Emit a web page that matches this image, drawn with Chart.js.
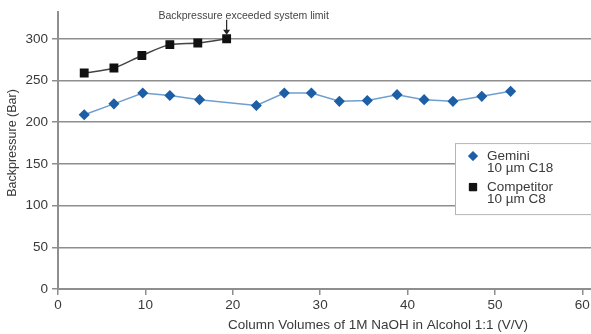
<!DOCTYPE html>
<html lang="en">
<head>
  <meta charset="UTF-8" />
  <title>Backpressure</title>
  <script src="https://cdn.jsdelivr.net/npm/chart.js"></script>
  <style>
    body {
      margin: 0;
      background: #ffffff;
    }
    .wrap {
      width: 591px;
      height: 334px;
      position: relative;
    }
  </style>
</head>
<body>
  <div class="wrap">
    <canvas id="bpChart"></canvas>
  </div>

  <script>
    // column volumes (x) and backpressure in bar (y)
    const geminiVolumes = [3.0, 6.4, 9.7, 12.8, 16.2, 22.7, 25.9, 29.0, 32.2, 35.4, 38.8, 41.9, 45.2, 48.5, 51.8];
    const geminiPressure = [209, 222, 235, 232, 227, 220, 235, 235, 225, 226, 233, 227, 225, 231, 237];
    const competitorVolumes = [3.0, 6.4, 9.6, 12.8, 16.0, 19.3];
    const competitorPressure = [259, 265, 280, 293, 295, 300];

    const xTicks = [0, 10, 20, 30, 40, 50, 60];
    const yTicks = [0, 50, 100, 150, 200, 250, 300];

    const legendItems = [
      { name: 'Gemini', sub: '10 µm C18' },
      { name: 'Competitor', sub: '10 µm C8' }
    ];
    const noteText = 'Backpressure exceeded system limit';
    const xTitle = 'Column Volumes of 1M NaOH in Alcohol 1:1 (V/V)';
    const yTitle = 'Backpressure (Bar)';

    const FONT = '"Liberation Sans", Arial, sans-serif';
    const TEXT = '#3a3a3a';
    const GRID = '#8e8e8e';
    const BLUE = '#1d5fa6';
    const BLUE_LINE = '#6f9fcf';

    function toPoints(xs, ys) {
      return xs.map((x, i) => ({ x: x, y: ys[i] }));
    }

    // axis titles, legend box and annotation drawn on top of the plot
    const extras = {
      id: 'extras',
      afterDatasetsDraw(chart) {
        const c = chart.ctx;
        const area = chart.chartArea;
        const xs = chart.scales.x;
        const ys = chart.scales.y;

        // axis titles (the original sits off-centre)
        c.save();
        c.fillStyle = TEXT;
        c.textAlign = 'center';
        c.textBaseline = 'middle';
        c.font = '13.5px ' + FONT;
        c.fillText(xTitle, 378, 325);
        c.translate(13, 143);
        c.rotate(-Math.PI / 2);
        c.font = '12.5px ' + FONT;
        c.fillText(yTitle, 0, 0);
        c.restore();

        // annotation arrow at the last competitor point
        const last = competitorVolumes.length - 1;
        const px = xs.getPixelForValue(competitorVolumes[last]);
        const py = ys.getPixelForValue(competitorPressure[last]);
        c.save();
        c.strokeStyle = '#222';
        c.fillStyle = '#222';
        c.lineWidth = 1.2;
        c.beginPath();
        c.moveTo(px, py - 19);
        c.lineTo(px, py - 7);
        c.stroke();
        c.beginPath();
        c.moveTo(px - 3.5, py - 9);
        c.lineTo(px + 3.5, py - 9);
        c.lineTo(px, py - 4);
        c.closePath();
        c.fill();
        c.font = '10.5px ' + FONT;
        c.fillStyle = '#444';
        c.textAlign = 'center';
        c.textBaseline = 'middle';
        c.fillText(noteText, px + 17, py - 23);
        c.restore();

        // legend
        const left = area.right - 136;
        const top = area.top + 131;
        c.save();
        c.fillStyle = '#ffffff';
        c.fillRect(left, top, area.right - left + 2, 72);
        c.strokeStyle = '#b5b5b5';
        c.lineWidth = 1;
        c.strokeRect(left + 0.5, top + 0.5, area.right - left + 4, 71);

        const styles = [
          { pointStyle: 'rectRot', radius: 4.5, color: BLUE },
          { pointStyle: 'rect', radius: 5.2, color: '#111' }
        ];
        c.font = '13.5px ' + FONT;
        c.textAlign = 'left';
        c.textBaseline = 'middle';
        legendItems.forEach((item, i) => {
          const y = top + 13 + i * 31;
          const st = styles[i];
          c.fillStyle = st.color;
          c.strokeStyle = st.color;
          Chart.helpers.drawPoint(c, { pointStyle: st.pointStyle, radius: st.radius, rotation: 0, borderWidth: 1 }, left + 18, y);
          c.fill();
          c.fillStyle = TEXT;
          c.fillText(item.name, left + 32, y);
          c.fillText(item.sub, left + 32, y + 12.5);
        });
        c.restore();
      }
    };

    new Chart(document.getElementById('bpChart'), {
      type: 'line',
      data: {
        datasets: [
          {
            label: 'Gemini',
            data: toPoints(geminiVolumes, geminiPressure),
            borderColor: BLUE_LINE,
            borderWidth: 1.5,
            backgroundColor: BLUE,
            pointStyle: 'rectRot',
            pointRadius: 4.5,
            pointBorderColor: BLUE,
            pointBackgroundColor: BLUE,
            tension: 0
          },
          {
            label: 'Competitor',
            data: toPoints(competitorVolumes, competitorPressure),
            borderColor: '#444',
            borderWidth: 1.5,
            backgroundColor: '#111',
            pointStyle: 'rect',
            pointRadius: 5.2,
            pointBorderColor: '#111',
            pointBackgroundColor: '#111',
            tension: 0.3
          }
        ]
      },
      options: {
        responsive: true,
        maintainAspectRatio: false,
        animation: false,
        layout: { autoPadding: false, padding: { top: 12, right: 0, left: 0, bottom: 0 } },
        plugins: {
          legend: { display: false },
          tooltip: { enabled: false }
        },
        scales: {
          x: {
            type: 'linear',
            min: 0,
            max: 61,
            afterBuildTicks: scale => { scale.ticks = xTicks.map(v => ({ value: v })); },
            afterFit: scale => { scale.height = 45; scale.paddingRight = 0; },
            border: { color: GRID, width: 2 },
            grid: { drawOnChartArea: false, color: GRID, lineWidth: 1.5, tickLength: 6 },
            ticks: { color: TEXT, font: { family: FONT, size: 13.5 }, padding: 2, maxRotation: 0 },
            title: { display: false }
          },
          y: {
            min: 0,
            max: 332,
            afterBuildTicks: scale => { scale.ticks = yTicks.map(v => ({ value: v })); },
            afterFit: scale => { scale.width = 58; },
            border: { color: GRID, width: 2 },
            grid: { color: GRID, lineWidth: 1.5, tickLength: 6 },
            ticks: { color: TEXT, font: { family: FONT, size: 13.5 }, padding: 4 },
            title: { display: false }
          }
        }
      },
      plugins: [extras]
    });
  </script>
</body>
</html>
